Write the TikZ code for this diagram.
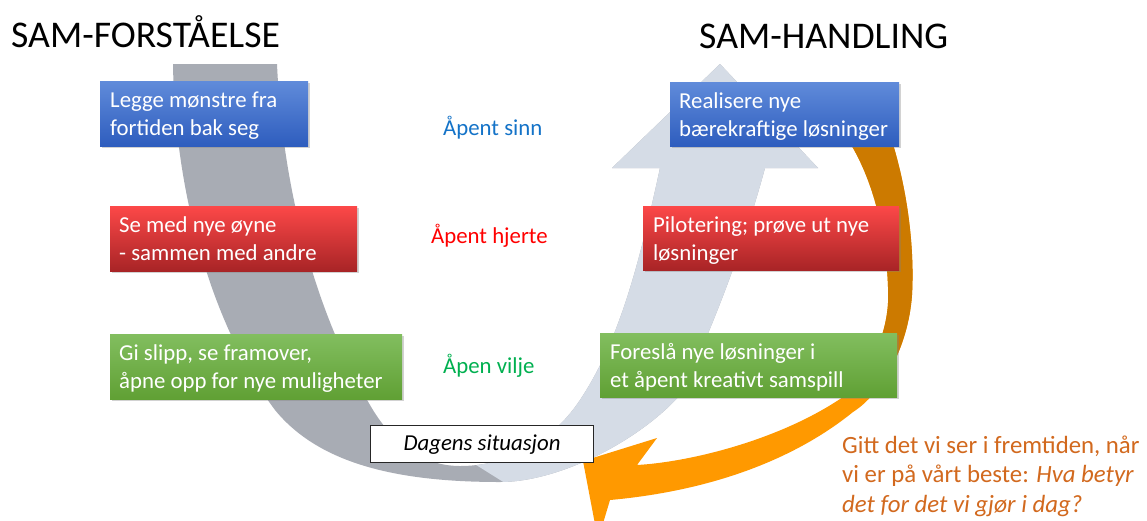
\documentclass[tikz,border=0pt]{standalone}
\usepackage{fontspec}
\setmainfont{Carlito}
\usetikzlibrary{calc,shadows}
\definecolor{armgray}{RGB}{168,172,180}
\definecolor{armlight}{RGB}{213,220,230}
\definecolor{ordark}{RGB}{204,122,0}
\definecolor{orbright}{RGB}{255,153,0}
\definecolor{bluetop}{RGB}{96,139,218}
\definecolor{bluebot}{RGB}{46,93,190}
\definecolor{redtop}{RGB}{252,72,72}
\definecolor{redbot}{RGB}{168,36,38}
\definecolor{greentop}{RGB}{130,190,95}
\definecolor{greenbot}{RGB}{96,160,52}
\definecolor{lblblue}{RGB}{20,115,200}
\definecolor{lblred}{RGB}{255,0,0}
\definecolor{lblgreen}{RGB}{0,176,80}
\definecolor{ortext}{RGB}{210,105,30}
\tikzset{
  boxbase/.style={rectangle, inner sep=0pt, anchor=north west,
    drop shadow={opacity=0.35, shadow xshift=1.5pt, shadow yshift=-2pt}},
  bluebox/.style={boxbase, top color=bluetop, bottom color=bluebot},
  redbox/.style={boxbase, top color=redtop, bottom color=redbot},
  greenbox/.style={boxbase, top color=greentop, bottom color=greenbot},
  boxtxt/.style={anchor=base west, inner sep=0pt, text=white,
    font=\fontsize{22.8}{28}\selectfont},
  midlbl/.style={anchor=base west, inner sep=0pt, font=\fontsize{22.8}{28}\selectfont},
  titletxt/.style={anchor=base west, inner sep=0pt, font=\fontsize{37.7}{44}\selectfont},
}
\def\Upath{(173,64) .. controls (175,200) and (215,330) .. (275,410)
 .. controls (320,465) and (400,482) .. (500,482)
 .. controls (560,482) and (640,440) .. (680,395)
 .. controls (705,345) and (740,260) .. (765,168)
 -- (818,168) -- (720,64) -- (612,168) -- (660,168)
 .. controls (640,260) and (620,340) .. (580,400)
 .. controls (550,445) and (505,466) .. (460,466)
 .. controls (420,466) and (390,440) .. (370,405)
 .. controls (320,320) and (283,200) .. (277,64) -- cycle}
\def\Opath{(890,135) .. controls (905,180) and (915,240) .. (912,295)
 .. controls (908,350) and (880,395) .. (853,412)
 .. controls (800,455) and (720,490) .. (610,500)
 -- (598,540) -- (583,461) -- (657,438) -- (637,465)
 .. controls (690,462) and (780,440) .. (843,397)
 .. controls (880,360) and (890,320) .. (888,287)
 .. controls (886,230) and (872,175) .. (845,135) -- cycle}
\begin{document}
\begin{tikzpicture}[x=1pt,y=-1pt]
\clip (0,0) rectangle (1147,520);
\fill[white] (0,0) rectangle (1147,520);
% U shape
\fill[armgray] \Upath;
\begin{scope}
  \clip (440,300) -- (473,463) -- (540,505) -- (950,505) -- (950,0) -- (440,0) -- cycle;
  \fill[armlight] \Upath;
\end{scope}
% orange arrow
\fill[orbright] \Opath;
\begin{scope}
  \clip (700,0) rectangle (1000,396);
  \fill[ordark] \Opath;
\end{scope}
% titles
\node[titletxt] (t1) at (11,47) {SAM-FORSTÅELSE};
\node[titletxt] (t2) at (699,48) {SAM-HANDLING};
% left boxes
\node[bluebox, minimum width=208pt, minimum height=65pt] (bl) at (100,81) {};
\node[boxtxt] (blt) at (110,107) {\parbox[t]{300pt}{\raggedright Legge mønstre fra\\fortiden bak seg}};
\node[redbox, minimum width=247pt, minimum height=65pt] (rl) at (110,206) {};
\node[boxtxt] (rlt) at (119,232) {\parbox[t]{300pt}{\raggedright Se med nye øyne\\- sammen med andre}};
\node[greenbox, minimum width=292pt, minimum height=65pt] (gl) at (110,334) {};
\node[boxtxt] (glt) at (119,360) {\parbox[t]{300pt}{\raggedright Gi slipp, se framover,\\åpne opp for nye muligheter}};
% right boxes
\node[bluebox, minimum width=229pt, minimum height=64pt] (br) at (670,82) {};
\node[boxtxt] (brt) at (679,108) {\parbox[t]{300pt}{\raggedright Realisere nye\\bærekraftige løsninger}};
\node[redbox, minimum width=256pt, minimum height=64pt] (rr) at (643,206) {};
\node[boxtxt] (rrt) at (653,232) {\parbox[t]{300pt}{\raggedright Pilotering; prøve ut nye\\løsninger}};
\node[greenbox, minimum width=297pt, minimum height=64pt] (gr) at (600,333) {};
\node[boxtxt] (grt) at (610,359) {\parbox[t]{300pt}{\raggedright Foreslå nye løsninger i\\et åpent kreativt samspill}};
% middle labels
\node[midlbl, text=lblblue] (m1) at (443,135) {Åpent sinn};
\node[midlbl, text=lblred] (m2) at (431,243) {Åpent hjerte};
\node[midlbl, text=lblgreen] (m3) at (443,373) {Åpen vilje};
% current situation
\node[draw=black!85, line width=1.2pt, fill=white, minimum width=223pt, minimum height=37pt,
  anchor=north west, inner sep=0pt, font=\fontsize{22.8}{28}\selectfont\itshape] (dag) at (370,425) {Dagens situasjon};
% orange question
\node[anchor=base west, inner sep=0pt, text=ortext, font=\fontsize{24.8}{29.5}\selectfont] (q) at (842,453)
  {\parbox[t]{310pt}{\raggedright Gitt det vi ser i fremtiden, når\\vi er på vårt beste: \textit{Hva betyr}\\\textit{det for det vi gjør i dag?}}};
\end{tikzpicture}
\end{document}
